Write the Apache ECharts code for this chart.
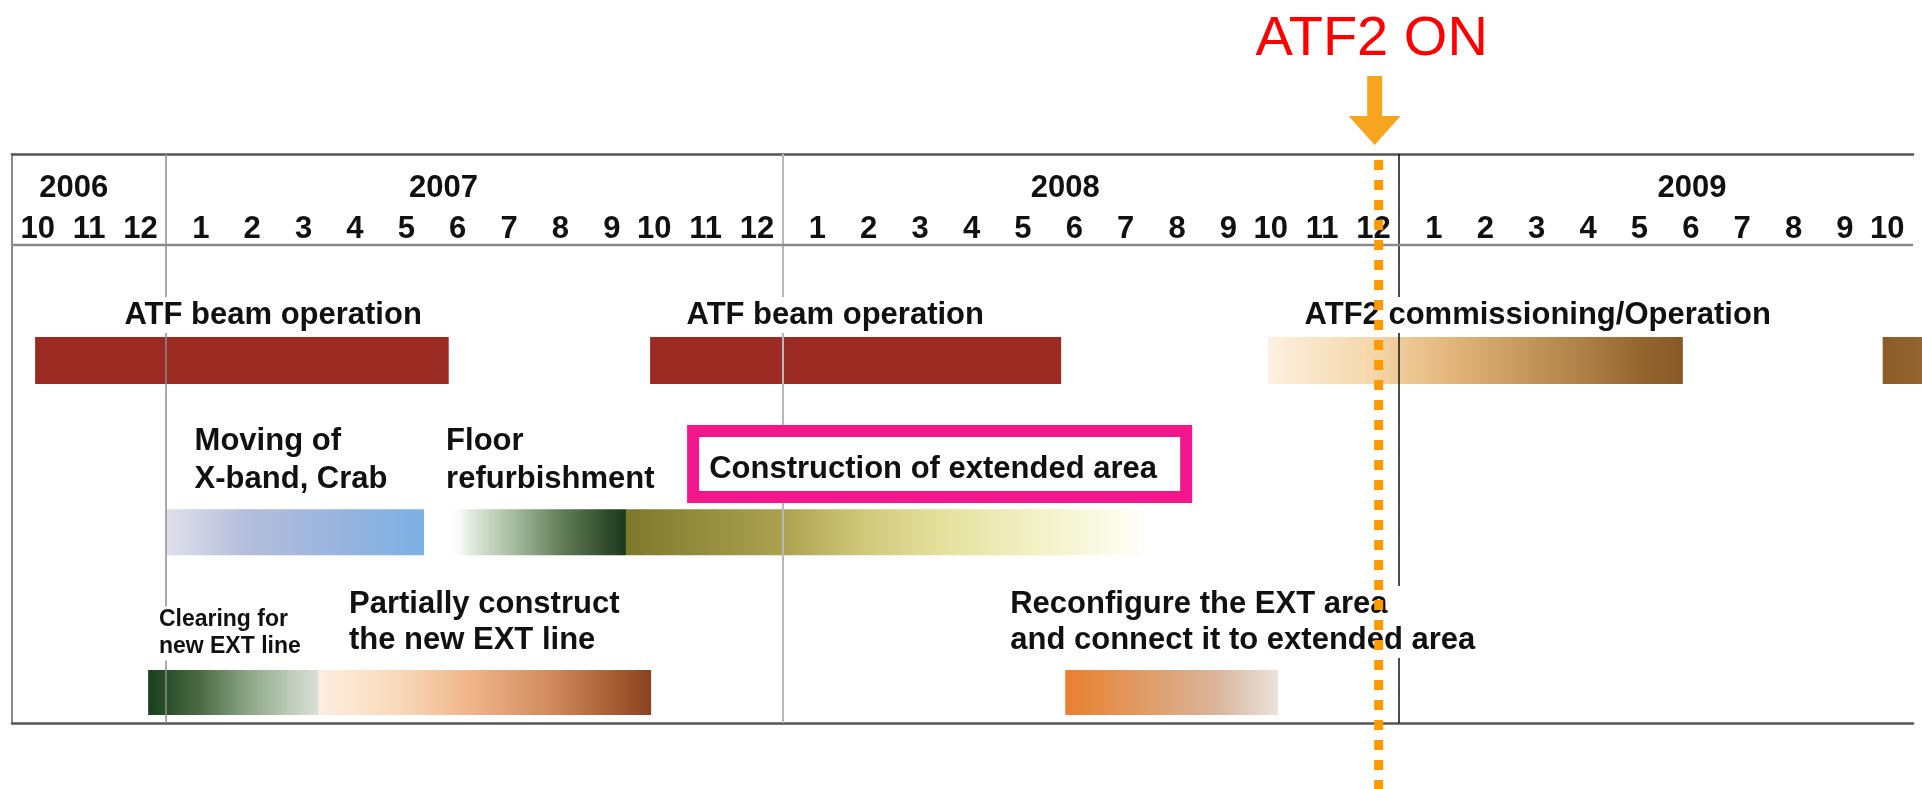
<!DOCTYPE html>
<html>
<head>
<meta charset="utf-8">
<title>ATF / ATF2 schedule</title>
<script src="https://cdn.jsdelivr.net/npm/echarts@6/dist/echarts.min.js"></script>
<style>
html, body { margin: 0; padding: 0; background: #fff; }
#main { width: 1922px; height: 789px; }
</style>
</head>
<body>
<div id="main"></div>
<script>
// month columns, Oct 2006 .. Oct 2009
var monthLabels = ['10', '11', '12',
    '1', '2', '3', '4', '5', '6', '7', '8', '9', '10', '11', '12',
    '1', '2', '3', '4', '5', '6', '7', '8', '9', '10', '11', '12',
    '1', '2', '3', '4', '5', '6', '7', '8', '9', '10'];
var yearLabels = ['2006', '2007', '2008', '2009'];
var yearLabelAt = [1.2, 8.4, 20.5, 32.7];

// bars, in months counted from 1 Oct 2006
var taskNames = ['ATF beam operation', 'ATF beam operation', 'ATF2 commissioning/Operation', 'ATF2 operation',
    'Moving of X-band, Crab', 'Floor refurbishment', 'Construction of extended area',
    'Clearing for new EXT line', 'Partially construct the new EXT line', 'Reconfigure the EXT area'];
var taskLane = [0, 0, 0, 0, 1, 1, 1, 2, 2, 2];
var taskStart = [0.45, 12.42, 24.45, 36.41, 3.0, 8.5, 11.95, 2.65, 5.97, 20.5];
var taskEnd = [8.5, 20.42, 32.52, 38.0, 8.02, 11.95, 22.1, 5.97, 12.44, 24.64];

// captions written over the bars
var captionTexts = ['ATF beam operation', 'ATF beam operation', 'ATF2 commissioning/Operation',
    'Moving of\nX-band, Crab', 'Floor\nrefurbishment', 'Construction of extended area',
    'Clearing for\nnew EXT line', 'Partially construct\nthe new EXT line',
    'Reconfigure the EXT area\nand connect it to extended area'];
var captionAt = [2.15, 13.09, 25.12, 3.515, 8.41, 13.53, 2.82, 6.52, 19.39];

var atf2OnAt = 26.6;
var atf2OnText = 'ATF2 ON';

var Schedule = function() {
    var FONT = '"Liberation Sans", Arial, sans-serif';
    var t = {
        chart : null,
        // y rows (axis units 0..12, top down)
        yearRow : 0.717,
        headerLine : 1.919,
        laneBars : [ [ 3.86, 4.85 ], [ 7.49, 8.46 ], [ 10.88, 11.83 ] ],
        // caption rows: y, font size, line height
        captionLayout : [
            [ 3.395, 31, 36 ], [ 3.395, 31, 36 ], [ 3.395, 31, 36 ],
            [ 6.453, 31, 38 ], [ 6.453, 31, 38 ], [ 6.654, 31, 36 ],
            [ 10.112, 23, 27 ], [ 9.87, 31, 36 ], [ 9.87, 31, 36 ]
        ],
        boxedCaption : 5,
        boxRange : [ 13.14, 22.97, 5.715, 7.36 ],
        barStops : [
            [ [ 0, '#9a2a22' ], [ 1, '#9a2a22' ] ],
            [ [ 0, '#9a2a22' ], [ 1, '#9a2a22' ] ],
            [ [ 0, '#fcf1e1' ], [ 0.25, '#f5d7a8' ], [ 0.45, '#e2b47a' ], [ 0.7, '#b98a50' ], [ 0.9, '#956530' ], [ 1, '#855926' ] ],
            [ [ 0, '#8a5c28' ], [ 1, '#a06c38' ] ],
            [ [ 0, '#dfe0ea' ], [ 0.3, '#b6bedc' ], [ 0.7, '#95b4de' ], [ 1, '#7cb0e4' ] ],
            [ [ 0, 'rgba(255,255,255,0)' ], [ 0.12, '#e2eadf' ], [ 0.35, '#a9bfa2' ], [ 0.65, '#5f7b55' ], [ 0.9, '#2e4a2a' ], [ 1, '#1b3a1b' ] ],
            [ [ 0, '#7d792c' ], [ 0.3, '#aaa250' ], [ 0.45, '#cfc878' ], [ 0.6, '#e4e09c' ], [ 0.8, '#f3f2c8' ], [ 0.92, '#fafae6' ], [ 1, '#ffffff' ] ],
            [ [ 0, '#183f1c' ], [ 0.3, '#4a6a44' ], [ 0.6, '#8fa888' ], [ 0.85, '#c0cebc' ], [ 1, '#d9e0d8' ] ],
            [ [ 0, '#fdeee0' ], [ 0.25, '#f8d8b8' ], [ 0.45, '#f0b68a' ], [ 0.7, '#d08a5e' ], [ 0.9, '#a45a30' ], [ 1, '#8a4220' ] ],
            [ [ 0, '#e8802f' ], [ 0.35, '#e19a62' ], [ 0.7, '#d9b49a' ], [ 1, '#ebe2da' ] ]
        ],
        // year dividers: colour, width
        dividerStyle : [ [ '#8c8c8c', 1.5 ], [ '#b8b8b8', 2 ], [ '#111111', 1.5 ] ],
        init : function(container) {
            t.chart = echarts.init(document.getElementById(container));
            t.chart.setOption(t.buildOption());
        },
        barFill : function(i) {
            return {
                type : 'linear', x : 0, y : 0, x2 : 1, y2 : 0,
                colorStops : t.barStops[i].map(function(s) {
                    return { offset : s[0], color : s[1] };
                })
            };
        },
        renderBar : function(params, api) {
            var lane = t.laneBars[api.value(2)];
            var p0 = api.coord([ api.value(0), lane[0] ]);
            var p1 = api.coord([ api.value(1), lane[1] ]);
            return {
                type : 'rect',
                shape : { x : p0[0], y : p0[1], width : p1[0] - p0[0], height : p1[1] - p0[1] },
                style : { fill : t.barFill(params.dataIndex) }
            };
        },
        renderDivider : function(params, api) {
            var cs = params.coordSys;
            var x = Math.round(api.coord([ api.value(0), 0 ])[0]);
            var st = t.dividerStyle[params.dataIndex];
            return {
                type : 'line',
                shape : { x1 : x, y1 : cs.y, x2 : x, y2 : cs.y + cs.height },
                style : { stroke : st[0], lineWidth : st[1] }
            };
        },
        renderHeader : function(params, api) {
            var cs = params.coordSys;
            var p = api.coord([ api.value(0), t.yearRow ]);
            var items = [ {
                type : 'text',
                style : {
                    text : yearLabels[params.dataIndex], x : p[0], y : p[1],
                    align : 'center', verticalAlign : 'middle', fill : '#111',
                    fontFamily : FONT, fontWeight : 'bold', fontSize : 31
                }
            } ];
            if (params.dataIndex == 0) {
                var y = api.coord([ 0, t.headerLine ])[1];
                items.push({
                    type : 'line',
                    shape : { x1 : cs.x, y1 : y, x2 : cs.x + cs.width, y2 : y },
                    style : { stroke : '#8a8a8a', lineWidth : 2.5 }
                });
            }
            return { type : 'group', children : items };
        },
        renderCaption : function(params, api) {
            var i = params.dataIndex;
            var L = t.captionLayout[i];
            var p = api.coord([ api.value(0), L[0] ]);
            var items = [];
            if (i == t.boxedCaption) {
                var b = t.boxRange, lw = 12;
                var a = api.coord([ b[0], b[2] ]);
                var c = api.coord([ b[1], b[3] ]);
                items.push({
                    type : 'rect',
                    shape : { x : a[0] + lw / 2, y : a[1] + lw / 2, width : c[0] - a[0] - lw, height : c[1] - a[1] - lw },
                    style : { fill : '#ffffff', stroke : '#f2168c', lineWidth : lw }
                });
            }
            items.push({
                type : 'text',
                style : {
                    text : captionTexts[i], x : p[0], y : p[1],
                    align : 'left', verticalAlign : 'middle', fill : '#111',
                    fontFamily : FONT, fontWeight : 'bold', fontSize : L[1], lineHeight : L[2],
                    backgroundColor : i == t.boxedCaption ? null : '#ffffff', padding : [ 0, 2 ]
                }
            });
            return { type : 'group', children : items };
        },
        // ATF2 ON: arrow, caption and dotted line
        renderMarker : function(params, api) {
            var cs = params.coordSys;
            var x = api.coord([ api.value(0), 0 ])[0];
            var top = cs.y;
            var ax = x - 4;
            return {
                type : 'group',
                children : [ {
                    type : 'line',
                    shape : { x1 : x, y1 : top + 6, x2 : x, y2 : api.getHeight() },
                    style : { stroke : '#ff9900', lineWidth : 9, lineDash : [ 10, 10 ] }
                }, {
                    type : 'polygon',
                    shape : { points : [ [ ax - 7.5, top - 78 ], [ ax + 7.5, top - 78 ], [ ax + 7.5, top - 38 ], [ ax + 26, top - 38 ],
                        [ ax, top - 9 ], [ ax - 26, top - 38 ], [ ax - 7.5, top - 38 ] ] },
                    style : { fill : '#f7a51e' }
                }, {
                    type : 'text',
                    style : {
                        text : atf2OnText, x : x - 7, y : top - 114,
                        align : 'center', verticalAlign : 'middle', fill : '#ff0000',
                        fontFamily : FONT, fontSize : 56
                    }
                } ]
            };
        },
        // single digit months sit a little right of the column centre
        monthFormatter : function(v) {
            return v.length == 1 ? '{s|' + v + '}' : '{d|' + v + '}';
        },
        buildOption : function() {
            var barData = [];
            for (var i = 0; i < taskNames.length; i++) {
                barData.push({ name : taskNames[i], value : [ taskStart[i], taskEnd[i], taskLane[i] ] });
            }
            var yearBreaks = [];
            monthLabels.forEach(function(m, i) {
                if (m === '1') yearBreaks.push([ i ]);
            });
            var monthText = { color : '#111', fontFamily : FONT, fontWeight : 'bold', fontSize : 31 };
            return {
                backgroundColor : '#ffffff',
                animation : false,
                grid : { left : 12, right : 9, top : 154, bottom : 66, containLabel : false },
                xAxis : [ {
                    type : 'value', min : 0, max : monthLabels.length, position : 'bottom',
                    axisLine : { show : true, onZero : false, lineStyle : { color : '#555555', width : 2.5 } },
                    axisTick : { show : false }, axisLabel : { show : false }, splitLine : { show : false }
                }, {
                    type : 'category', data : monthLabels, position : 'top', boundaryGap : true,
                    axisLine : { show : true, onZero : false, lineStyle : { color : '#555555', width : 2.5 } },
                    axisTick : { show : false }, splitLine : { show : false },
                    axisLabel : {
                        inside : true, interval : 0, margin : 75, verticalAlign : 'middle',
                        color : '#111', fontFamily : FONT, fontWeight : 'bold', fontSize : 31,
                        formatter : t.monthFormatter,
                        rich : {
                            s : echarts.util.extend({ padding : [ 0, 0, 0, 18 ] }, monthText),
                            d : echarts.util.extend({}, monthText)
                        }
                    }
                } ],
                yAxis : {
                    type : 'value', min : 0, max : 12, inverse : true,
                    axisLine : { show : true, onZero : false, lineStyle : { color : '#8a8a8a', width : 2 } },
                    axisTick : { show : false }, axisLabel : { show : false }, splitLine : { show : false }
                },
                series : [ {
                    type : 'custom', name : 'bars', z : 2, clip : false,
                    renderItem : t.renderBar, data : barData
                }, {
                    type : 'custom', name : 'years', z : 3,
                    renderItem : t.renderDivider, data : yearBreaks
                }, {
                    type : 'custom', name : 'header', z : 3,
                    renderItem : t.renderHeader,
                    data : yearLabelAt.map(function(v) { return [ v ]; })
                }, {
                    type : 'custom', name : 'captions', z : 4,
                    renderItem : t.renderCaption,
                    data : captionAt.map(function(v) { return [ v ]; })
                }, {
                    type : 'custom', name : 'atf2on', z : 5, clip : false,
                    renderItem : t.renderMarker, data : [ [ atf2OnAt ] ]
                } ]
            };
        }
    };
    return t;
}();

Schedule.init('main');
</script>
</body>
</html>
